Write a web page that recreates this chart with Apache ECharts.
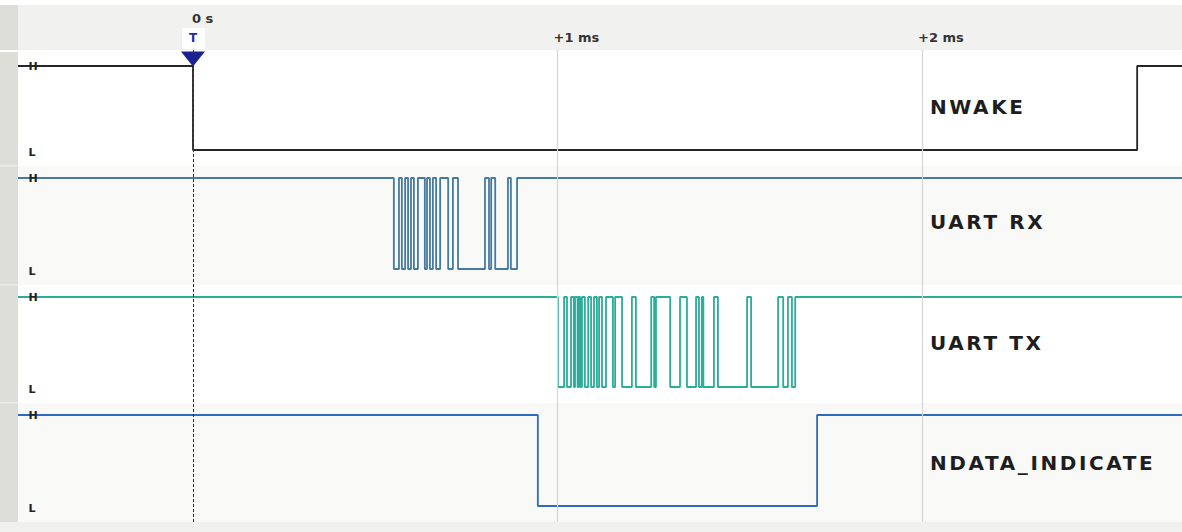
<!DOCTYPE html>
<html>
<head>
<meta charset="utf-8">
<script src="https://cdn.jsdelivr.net/npm/echarts@6/dist/echarts.min.js"></script>
<style>
html,body{margin:0;padding:0;background:#fff;}
#c{width:1182px;height:532px;}
</style>
</head>
<body>
<div id="c"></div>
<script>
// ---- data (time in ms) ----
const timeMin = -0.48;
const timeMax = 2.713;
const channelNames = ["NWAKE", "UART RX", "UART TX", "NDATA_INDICATE"];
const tickValues = [0, 1, 2];
const tickLabels = ["0 s", "+1 ms", "+2 ms"];
const nwakeStart = 1;
const nwakeEdges = [0.000, 2.590];
const rxStart = 1;
const rxEdges = [0.551, 0.565, 0.573, 0.582, 0.590, 0.598, 0.606, 0.617, 0.636, 0.642,
  0.650, 0.658, 0.667, 0.678, 0.700, 0.713, 0.727, 0.801, 0.812, 0.818,
  0.829, 0.864, 0.872, 0.889];
const txStart = 1;
const txEdges = [1.001, 1.018, 1.026, 1.037, 1.045, 1.048, 1.055, 1.058, 1.062, 1.067,
  1.075, 1.084, 1.092, 1.100, 1.108, 1.114, 1.122, 1.133, 1.152, 1.158,
  1.177, 1.204, 1.215, 1.257, 1.265, 1.270, 1.309, 1.336, 1.355, 1.380,
  1.388, 1.396, 1.400, 1.429, 1.440, 1.520, 1.531, 1.605, 1.619, 1.632,
  1.643, 1.652];
const ndataStart = 1;
const ndataEdges = [0.946, 1.712];

// ---- build step data from edges ----
function stepData(start, edges) {
  let v = start;
  const d = [[timeMin, v]];
  edges.forEach(t => { v = 1 - v; d.push([t, v]); });
  d.push([timeMax, v]);
  return d;
}
const signals = [
  { start: nwakeStart, edges: nwakeEdges, color: '#262626' },
  { start: rxStart, edges: rxEdges, color: '#457aa0' },
  { start: txStart, edges: txEdges, color: '#2aae99' },
  { start: ndataStart, edges: ndataEdges, color: '#2d6ac4' }
];

// ---- layout ----
const W = 1182, H = 532;
const rowBand = [[51, 166], [166, 285], [285, 403], [403, 522]];
const levelY = [[66, 150], [178, 269], [297, 387], [415, 506]];
const labelY = [107, 222, 343, 463];

const chart = echarts.init(document.getElementById('c'), null, { renderer: 'svg' });

const grids = [{ left: 18, right: 0, top: 50, bottom: 10 }];
const xAxes = [{ gridIndex: 0, type: 'value', min: timeMin, max: timeMax, show: false }];
const yAxes = [{ gridIndex: 0, type: 'value', min: 0, max: 1, show: false }];
levelY.forEach((lv, i) => {
  grids.push({ left: 18, right: 0, top: lv[0], height: lv[1] - lv[0] });
  xAxes.push({ gridIndex: i + 1, type: 'value', min: timeMin, max: timeMax, show: false });
  yAxes.push({ gridIndex: i + 1, type: 'value', min: 0, max: 1, show: false });
});

const series = [{
  type: 'line',
  xAxisIndex: 0, yAxisIndex: 0,
  data: [[0, 1]],
  symbol: 'none',
  lineStyle: { opacity: 0 },
  z: 1,
  silent: true,
  markLine: {
    symbol: 'none',
    silent: true,
    label: { show: false },
    data: [
      { xAxis: tickValues[1], lineStyle: { color: '#d6d6d6', width: 1.2, type: 'solid' } },
      { xAxis: tickValues[2], lineStyle: { color: '#d6d6d6', width: 1.2, type: 'solid' } },
      { xAxis: tickValues[0], lineStyle: { color: '#1c2380', width: 1, type: [3, 2] } }
    ]
  },
  markPoint: {
    silent: true,
    data: [{ coord: [tickValues[0], 1], symbol: 'triangle', symbolSize: [24, 15], symbolRotate: 180, symbolOffset: [0, 9],
      itemStyle: { color: '#1c2390' }, label: { show: false } }]
  }
}];
signals.forEach((s, i) => {
  series.push({
    type: 'line',
    xAxisIndex: i + 1, yAxisIndex: i + 1,
    step: 'end',
    data: stepData(s.start, s.edges),
    symbol: 'none',
    clip: false,
    silent: true,
    animation: false,
    lineStyle: { color: s.color, width: 1.8 },
    z: 3
  });
});

const bgGraphics = [
  { type: 'rect', shape: { x: 0, y: 5, width: W, height: 45 }, style: { fill: '#f1f1ef' }, z: -10, silent: true },
  { type: 'rect', shape: { x: 18, y: rowBand[1][0], width: W - 18, height: rowBand[1][1] - rowBand[1][0] }, style: { fill: '#f9f9f8' }, z: -10, silent: true },
  { type: 'rect', shape: { x: 18, y: rowBand[3][0], width: W - 18, height: rowBand[3][1] - rowBand[3][0] }, style: { fill: '#f9f9f8' }, z: -10, silent: true },
  { type: 'rect', shape: { x: 0, y: 522, width: W, height: 10 }, style: { fill: '#f0f0ee' }, z: -10, silent: true },
  { type: 'rect', shape: { x: 0, y: 5, width: 18, height: 45 }, style: { fill: '#deded9' }, z: -9, silent: true },
  { type: 'rect', shape: { x: 0, y: 52, width: 18, height: 470 }, style: { fill: '#deded9' }, z: -9, silent: true },
  { type: 'rect', shape: { x: 0, y: 165, width: 18, height: 1.5 }, style: { fill: '#ebebe8' }, z: -8, silent: true },
  { type: 'rect', shape: { x: 0, y: 284, width: 18, height: 1.5 }, style: { fill: '#ebebe8' }, z: -8, silent: true },
  { type: 'rect', shape: { x: 0, y: 402, width: 18, height: 1.5 }, style: { fill: '#ebebe8' }, z: -8, silent: true }
];
const textGraphics = [];
channelNames.forEach((n, i) => {
  textGraphics.push({ type: 'text', x: 930, y: labelY[i], z: 10, silent: true,
    style: { text: n, fill: '#1e1e1e', font: 'bold 20px "DejaVu Sans"', verticalAlign: 'middle' } });
  textGraphics.push({ type: 'text', x: 33, y: levelY[i][0], z: 10, silent: true,
    style: { text: 'H', fill: '#222', font: 'bold 11px "DejaVu Sans"', align: 'center', verticalAlign: 'middle' } });
  textGraphics.push({ type: 'text', x: 32, y: levelY[i][1] + 2, z: 10, silent: true,
    style: { text: 'L', fill: '#222', font: 'bold 11px "DejaVu Sans"', align: 'center', verticalAlign: 'middle' } });
});

chart.setOption({
  animation: false,
  backgroundColor: '#ffffff',
  grid: grids,
  xAxis: xAxes,
  yAxis: yAxes,
  series: series,
  graphic: { elements: bgGraphics.concat(textGraphics) }
});

// axis labels placed through the library's scale
const px0 = chart.convertToPixel({ gridIndex: 0 }, [tickValues[0], 0])[0];
const px1 = chart.convertToPixel({ gridIndex: 0 }, [tickValues[1], 0])[0];
const px2 = chart.convertToPixel({ gridIndex: 0 }, [tickValues[2], 0])[0];
const labelGraphics = [
  { type: 'text', x: px0 - 1, y: 18, z: 10, silent: true,
    style: { text: tickLabels[0], fill: '#333', font: 'bold 13px "DejaVu Sans"', verticalAlign: 'middle' } },
  { type: 'rect', shape: { x: px0 - 11, y: 28, width: 23, height: 21 }, style: { fill: '#ffffff' }, z: 9, silent: true },
  { type: 'text', x: px0, y: 38, z: 10, silent: true,
    style: { text: 'T', fill: '#2a2aa0', font: 'bold 12px "DejaVu Sans"', align: 'center', verticalAlign: 'middle' } },
  { type: 'text', x: px1 - 4, y: 37, z: 10, silent: true,
    style: { text: tickLabels[1], fill: '#333', font: 'bold 13px "DejaVu Sans"', verticalAlign: 'middle' } },
  { type: 'text', x: px2 - 4, y: 37, z: 10, silent: true,
    style: { text: tickLabels[2], fill: '#333', font: 'bold 13px "DejaVu Sans"', verticalAlign: 'middle' } }
];
chart.setOption({ graphic: { elements: bgGraphics.concat(textGraphics, labelGraphics) } });

// widen the channel names with letter spacing, as in the reference
function spaceNames() {
  document.querySelectorAll('#c text').forEach(t => {
    if (channelNames.indexOf(t.textContent) >= 0) t.style.letterSpacing = '2.6px';
  });
}
spaceNames();
chart.on('finished', spaceNames);
</script>
</body>
</html>
